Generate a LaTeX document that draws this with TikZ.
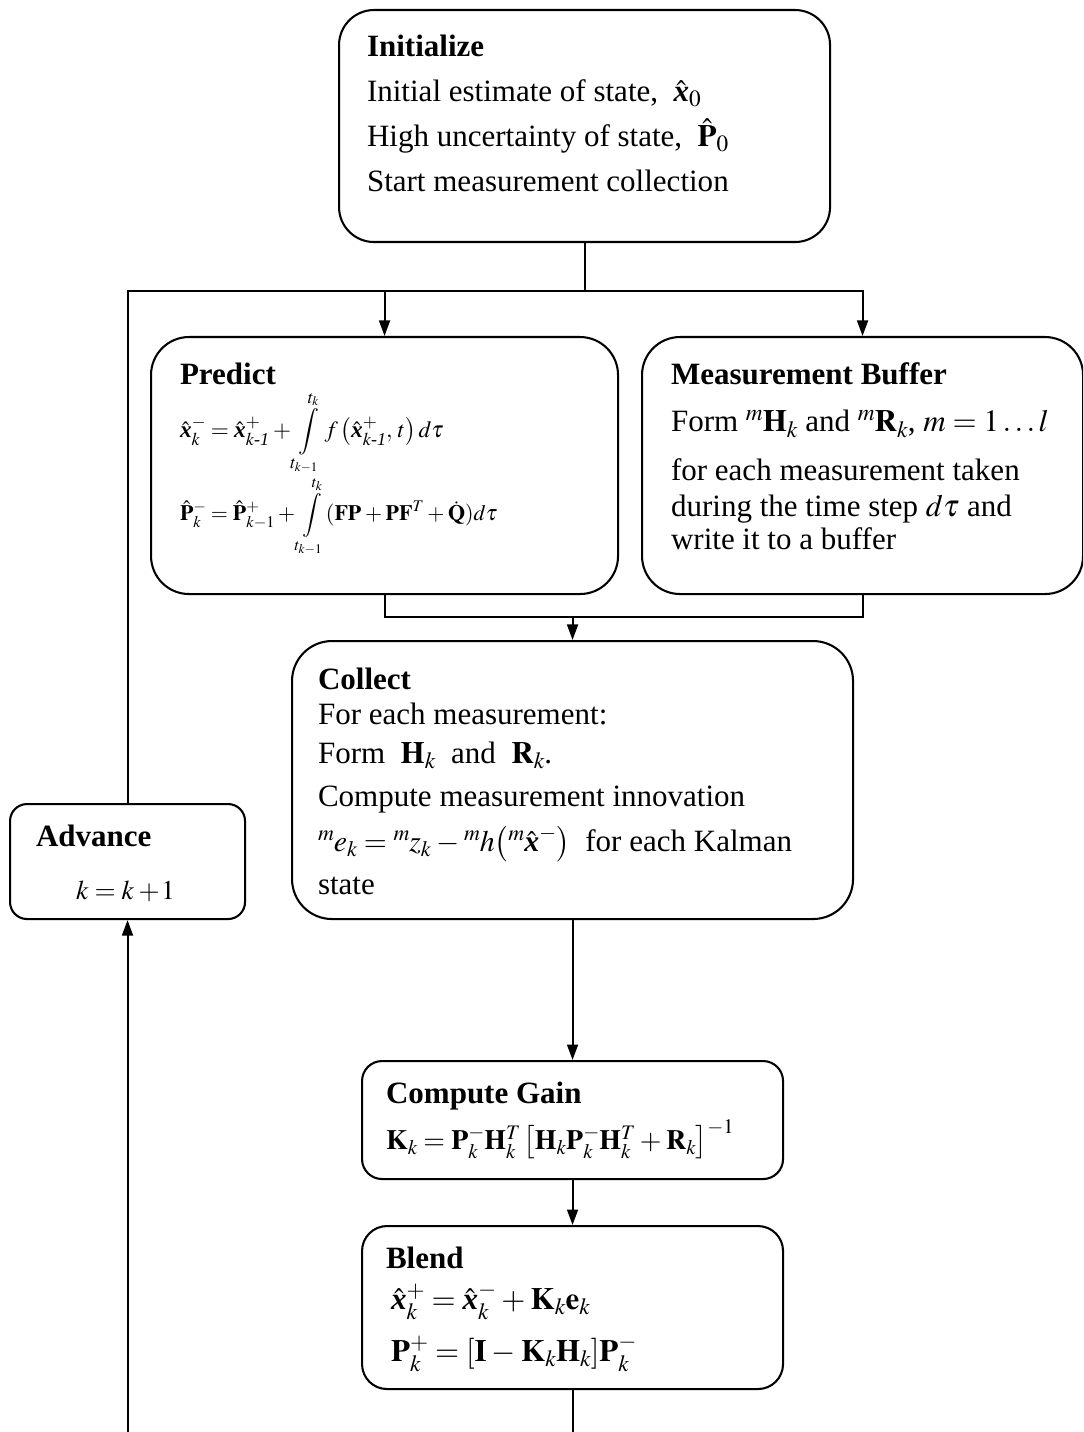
\documentclass[tikz,border=0pt]{standalone}
\usepackage{amsmath}
\usepackage{mathptmx}
\usepackage[no-math]{fontspec}
\setmainfont{Liberation Serif}
\usepackage{tikz}
\usetikzlibrary{arrows.meta,positioning,calc}

% one drawing unit
\newlength{\pxu}
\setlength{\pxu}{0.387pt}

\newcommand{\xv}{\text{\bfseries\itshape x}}
\newcommand{\xh}{\hat{\xv}}
% top aligned body of a stage: width, height, line pitch, text
\newcommand{\stagebody}[4]{\parbox[t][#2\pxu][t]{#1\pxu}{%
  \fontsize{12}{#3\pxu}\selectfont\lineskiplimit=-\maxdimen\lineskip=0pt
  \thinmuskip=2mu \medmuskip=3mu \thickmuskip=4mu \scriptspace=0pt
  \raggedright #4}}

\begin{document}
\begin{tikzpicture}[
    x=0.387pt, y=-0.387pt,
    stage/.style={rectangle, draw, line width=0.8pt, anchor=north west,
                  inner sep=0pt, align=left},
    arrow/.style={-{Triangle[length=6pt,width=4.2pt]}, line width=0.8pt},
    link/.style={line width=0.8pt}
]
\path[use as bounding box] (0,0) rectangle (1083,1432);
\clip (0,0) rectangle (1083,1432);

% Start
\node[stage, rounded corners=35\pxu, inner xsep=28\pxu, inner ysep=25\pxu] (init) at (338,9)
  {\stagebody{435}{182}{45}{\textbf{Initialize}\\
   Initial estimate of state, \ $\xh_0$\\
   High uncertainty of state, \ $\hat{\mathbf{P}}_0$\\
   Start measurement collection}};

% Time update and measurement side
\node[stage, rounded corners=38\pxu, inner xsep=29\pxu, inner ysep=26\pxu] (predict) at (150,336)
  {\stagebody{409}{205}{47}{\textbf{Predict}\\[6\pxu]
   {\fontsize{9}{11}\selectfont $\displaystyle \xh_k^- = \xh^+_{k\text{\itshape -1}}
     + \int\limits_{t_{k-1}}^{t_k} f\left(\xh^+_{k\text{\itshape -1}},\, t\right)d\tau$}\\[36\pxu]
   {\fontsize{8.5}{11}\selectfont $\displaystyle \hat{\mathbf{P}}_k^- = \hat{\mathbf{P}}^+_{k-1}
     + \int\limits_{t_{k-1}}^{t_k} (\mathbf{FP} + \mathbf{PF}^T + \dot{\mathbf{Q}})d\tau$}}};

\node[stage, rounded corners=38\pxu, inner xsep=29\pxu, inner ysep=26\pxu] (buffer) at (641,336)
  {\stagebody{383}{205}{33}{\textbf{Measurement Buffer}\\[14\pxu]
   Form ${}^m\mathbf{H}_k$ and ${}^m\mathbf{R}_k$, $m = 1\ldots l$\\[16\pxu]
   for each measurement taken\\[3\pxu]
   during the time step $d\tau$ and\\
   write it to a buffer}};

% Measurement update
\node[stage, rounded corners=40\pxu, inner xsep=26\pxu, inner ysep=27\pxu] (collect) at (291,640)
  {\stagebody{509}{224}{35}{\textbf{Collect}\\
   For each measurement:\\[4\pxu]
   Form \ $\mathbf{H}_k$ \ and \ $\mathbf{R}_k$.\\[8\pxu]
   Compute measurement innovation\\[10\pxu]
   \mbox{{\fontsize{11.5}{12}\selectfont
     $ {}^m e_k = {}^m z_k - {}^m h\bigl({}^m\xh^-\bigr)$} \ for each Kalman}\\[8\pxu]
   state}};

\node[stage, rounded corners=17\pxu, inner xsep=26\pxu, inner ysep=21\pxu] (advance) at (9,803)
  {\stagebody{183}{73}{53}{\textbf{Advance}\\
   \hspace*{40\pxu}{\fontsize{10.5}{12}\selectfont $k = k\mathbin{+}\!1$}}};

\node[stage, rounded corners=20\pxu, inner xsep=24\pxu, inner ysep=21\pxu] (gain) at (361,1060)
  {\stagebody{373}{76}{46}{\textbf{Compute Gain}\\
   {\fontsize{10.8}{12}\selectfont\mbox{$\mathbf{K}_k = \mathbf{P}_k^-\mathbf{H}_k^T\left[\mathbf{H}_k\mathbf{P}_k^-\mathbf{H}_k^T
     + \mathbf{R}_k\right]^{-1}$}}}};

\node[stage, rounded corners=25\pxu, inner xsep=24\pxu, inner ysep=21\pxu] (blend) at (361,1225)
  {\stagebody{373}{121}{41}{\textbf{Blend}\\
   \,$\xh_k^+ = \xh_k^- + \mathbf{K}_k\mathbf{e}_k$\\[11\pxu]
   \,$\mathbf{P}_k^+ = [\mathbf{I} - \mathbf{K}_k\mathbf{H}_k]\mathbf{P}_k^-$}};

% Connectors
\coordinate (bus) at ($(init.south)+(0,48)$);
\coordinate (merge) at ($(predict.south)+(0,22)$);

\draw[link] (init.south) -- (bus);
\draw[arrow] (advance.north) |- (predict.north |- bus) -- (predict.north);
\draw[arrow] (predict.north |- bus) -| (buffer.north);

\draw[link] (predict.south) -- (merge) -| (buffer.south);
\draw[arrow] (collect.north |- merge) -- (collect.north);

\draw[arrow] (collect.south) -- (gain.north);
\draw[arrow] (gain.south) -- (blend.north);
\draw[arrow] (blend.south) -- ++(0,72) -| (advance.south);

\end{tikzpicture}
\end{document}
